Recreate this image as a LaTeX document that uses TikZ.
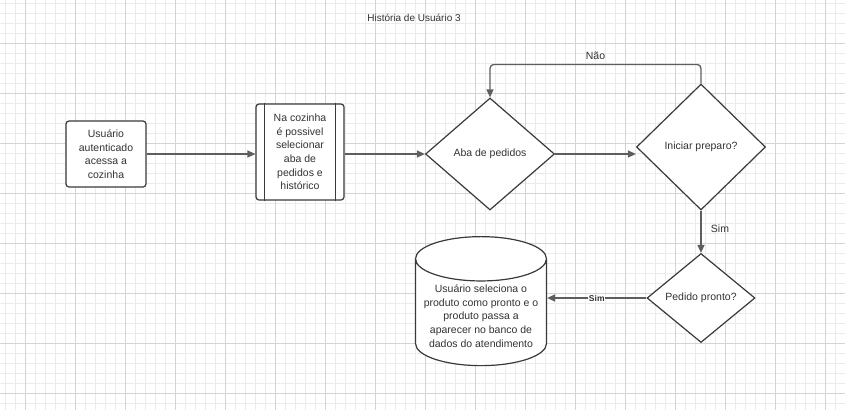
\documentclass[tikz,border=0pt]{standalone}
\usepackage{fontspec}
\setmainfont{Liberation Sans}
\usepackage{tikz}
\usetikzlibrary{arrows.meta,shapes.geometric}

\definecolor{linegray}{HTML}{5E5E5E}
\definecolor{shapegray}{HTML}{3A3A3A}
\definecolor{textgray}{HTML}{333333}
\definecolor{gridminor}{HTML}{EBEBEB}
\definecolor{gridmajor}{HTML}{D4D4D4}

\begin{document}
\begin{tikzpicture}[x=1pt,y=-1pt,font=\fontsize{10.5}{13.6}\selectfont]
            \useasboundingbox (0,0) rectangle (845,410);
            \fill[white] (0,0) rectangle (845,410);

            % grid
            \foreach \gx in {5,15,...,845} \draw[gridminor,line width=0.6pt] (\gx,0) -- (\gx,410);
            \foreach \gy in {3,13,...,410} \draw[gridminor,line width=0.6pt] (0,\gy) -- (845,\gy);
            \foreach \gx in {25,75,...,845} \draw[gridmajor,line width=0.6pt] (\gx,0) -- (\gx,410);
            \foreach \gy in {43,93,...,410} \draw[gridmajor,line width=0.6pt] (0,\gy) -- (845,\gy);

            \node (titulo) [text=textgray] at (414,18) {\fontsize{10}{12}\selectfont História de Usuário 3};

            \begin{scope}[every node/.style={draw=shapegray,line width=1.2pt,text=textgray,align=center,fill=white}]
                \node (usuario) [rounded corners=3pt,minimum width=80pt,minimum height=66pt] at (106,154) {Usuário\\autenticado\\acessa a\\cozinha};
                \node (cozinha) [rounded corners=3pt,minimum width=88pt,minimum height=96pt] at (300,152) {Na cozinha\\é possivel\\selecionar\\aba de\\pedidos e\\histórico};
                \node (aba) [diamond,aspect=1.15,inner sep=0pt,minimum width=129pt,minimum height=112pt] at (490,154) {Aba de pedidos};
                \node (preparo) [diamond,aspect=1,inner sep=0pt,minimum width=129pt,minimum height=126pt] at (701,147) {Iniciar preparo?};
                \node (pronto) [diamond,aspect=1.2,inner sep=0pt,minimum width=108pt,minimum height=89pt] at (701,298) {Pedido pronto?};
                \node (banco) [cylinder,shape border rotate=90,shape aspect=0.366,minimum width=131pt,minimum height=112pt] at (481,316) {Usuário seleciona o\\produto como pronto e o\\produto passa a\\aparecer no banco de\\dados do atendimento};
            \end{scope}

            \draw[shapegray,line width=1.2pt] ([xshift=9pt]cozinha.north west) -- ([xshift=9pt]cozinha.south west);
            \draw[shapegray,line width=1.2pt] ([xshift=-9pt]cozinha.north east) -- ([xshift=-9pt]cozinha.south east);

            \begin{scope}[>={Triangle[length=8pt,width=7pt]},
                          every edge/.style={draw=linegray,line width=1.3pt},
                          every node/.style={text=textgray}]
                \path [->] (usuario) edge (usuario -| cozinha.west);
                \path [->] (cozinha.east |- aba) edge (aba);
                \path [->] (aba.east) edge (aba.east -| preparo.west);
                \draw [->,draw=linegray,line width=1.3pt,rounded corners=4pt] (preparo.north) -- ++(0,-19) -| (aba.north) node [pos=0.25,above=1pt] {Não};
                \path [->] (preparo.south) edge node [right=6pt,pos=0.42] {Sim} (pronto.north);
                \path [->] (pronto.west) edge node [fill=white,inner sep=0.5pt,font=\fontsize{8.5}{10}\selectfont\bfseries] {Sim} (pronto.west -| banco.east);
            \end{scope}
        \end{tikzpicture}
\end{document}
